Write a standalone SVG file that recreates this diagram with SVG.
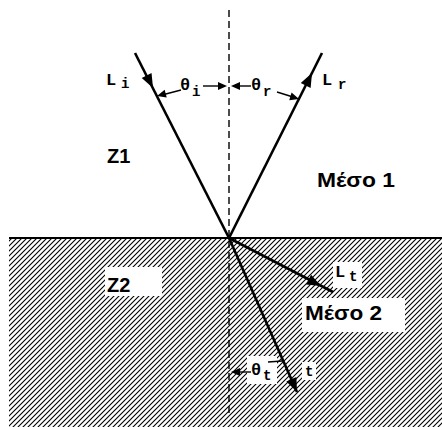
<svg xmlns="http://www.w3.org/2000/svg" width="442" height="427" viewBox="0 0 442 427">
<style>
.ln{stroke:#000;stroke-width:2.6;fill:none}
.thin{stroke:#000;stroke-width:1.4;fill:none}
.lab{font-family:"Liberation Mono",monospace;font-weight:bold;font-size:17px;fill:#000}
.sub{font-family:"Liberation Mono",monospace;font-weight:bold;font-size:14px;fill:#000}
.big{font-family:"Liberation Sans",Arial,sans-serif;font-weight:bold;font-size:20px;fill:#000}
.wb{fill:#fff}
</style>
<defs>
<pattern id="hatch" patternUnits="userSpaceOnUse" width="5" height="5">
<path d="M-1,1 L1,-1 M0,5 L5,0 M4,6 L6,4" stroke="#000" stroke-width="1.1"/>
</pattern>
<path id="ah" d="M0,0 L-14,-5.5 L-14,5.5 Z" fill="#000"/>
<path id="sah" d="M0,0 L-9,-4 L-9,4 Z" fill="#000"/>
</defs>
<rect x="0" y="0" width="442" height="427" fill="#fff"/>
<g id="medium2">
<rect x="9" y="238" width="433" height="189" fill="url(#hatch)"/>
<line x1="9" y1="238" x2="442" y2="238" stroke="#000" stroke-width="2"/>
</g>
<g id="normal">
<line x1="229" y1="10" x2="229" y2="415" stroke="#000" stroke-width="1.4" stroke-dasharray="7 4"/>
</g>
<g id="label-bgs">
<rect class="wb" x="105" y="267" width="57" height="29"/>
<rect class="wb" x="302" y="298" width="103" height="34"/>
<rect class="wb" x="333" y="262" width="29" height="26"/>
<rect class="wb" x="247" y="356" width="30" height="28"/>
<rect class="wb" x="302" y="362" width="14" height="18"/>
</g>
<g id="connectors">
<line class="ln" x1="135" y1="53" x2="229" y2="238"/>
<line class="ln" x1="229" y1="238" x2="322" y2="53"/>
<line class="ln" x1="229" y1="238" x2="333" y2="292"/>
<line class="ln" x1="229" y1="238" x2="297" y2="392"/>
<use href="#ah" transform="translate(153,88) rotate(63)"/>
<use href="#ah" transform="translate(312,73) rotate(-63.3)"/>
<use href="#ah" transform="translate(321,286) rotate(27.4)"/>
<use href="#ah" transform="translate(297,392) rotate(66.3)"/>
<line class="thin" x1="181" y1="90" x2="162" y2="95"/>
<use href="#sah" transform="translate(157,96) rotate(165)"/>
<line class="thin" x1="203" y1="86" x2="220" y2="86"/>
<use href="#sah" transform="translate(227,86)"/>
<line class="thin" x1="251" y1="86" x2="238" y2="86"/>
<use href="#sah" transform="translate(231,86) rotate(180)"/>
<line class="thin" x1="277" y1="92" x2="293" y2="97"/>
<use href="#sah" transform="translate(299,99) rotate(17)"/>
<line class="thin" x1="251" y1="372" x2="238" y2="372"/>
<use href="#sah" transform="translate(231,372) rotate(180)"/>
<line class="thin" x1="268" y1="362" x2="282" y2="361"/>
</g>
<g id="node-Li"><text class="lab" x="106" y="85">L</text><text class="sub" x="121" y="88">i</text></g>
<g id="node-Lr"><text class="lab" x="322" y="85">L</text><text class="sub" x="338" y="89">r</text></g>
<g id="node-thi"><text class="lab" x="180" y="90">θ</text><text class="sub" x="192" y="96">i</text></g>
<g id="node-thr"><text class="lab" x="251" y="90">θ</text><text class="sub" x="263" y="96">r</text></g>
<g id="node-Lt"><text class="lab" x="335" y="277">L</text><text class="sub" x="349" y="281">t</text></g>
<g id="node-tht"><text class="lab" x="251" y="375">θ</text><text class="sub" x="263" y="380">t</text></g>
<g id="node-t"><text class="sub" x="305" y="376">t</text></g>
<g id="node-Z1"><text class="big" x="107" y="163">Z1</text></g>
<g id="node-Z2"><text class="big" x="107" y="292">Z2</text></g>
<g id="node-m1"><text class="big" x="317" y="187" textLength="78" lengthAdjust="spacingAndGlyphs">Μέσο 1</text></g>
<g id="node-m2"><text class="big" x="305" y="320" textLength="77" lengthAdjust="spacingAndGlyphs">Μέσο 2</text></g>
</svg>
